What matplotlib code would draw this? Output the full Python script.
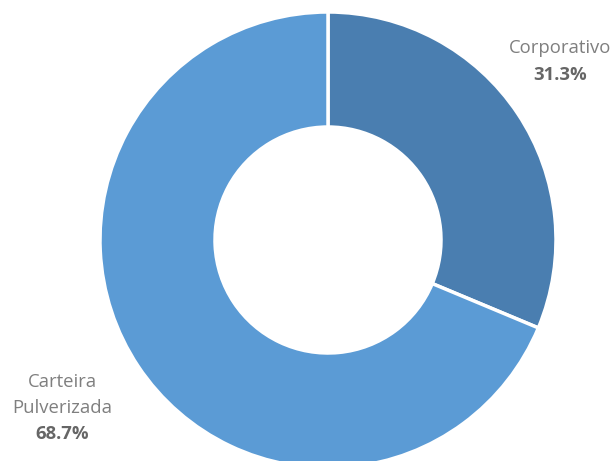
import matplotlib.pyplot as plt

labels = ["Corporativo", "Carteira\nPulverizada"]
values = [31.3, 68.7]
colors = ["#4a7eb0", "#5b9bd5"]

plt.rcParams['font.family'] = ['Open Sans', 'DejaVu Sans']

fig = plt.figure(figsize=(6.15, 4.61), dpi=100)
ax = fig.add_axes([0, 0, 1, 1])

# donut, clockwise from the top
ax.pie(values, colors=colors, startangle=90, counterclock=False,
       center=(328, 221), radius=228, frame=True,
       wedgeprops=dict(width=115, edgecolor="white", linewidth=2.5))

ax.set_xlim(0, 615)
ax.set_ylim(0, 461)
ax.axis("off")

grey = "#7f7f7f"
dark = "#666666"
fs = 13.3
ax.text(560, 461 - 48, labels[0], ha="center", va="center", fontsize=fs, color=grey)
ax.text(560, 461 - 75, "%.1f%%" % values[0], ha="center", va="center", fontsize=fs,
        color=dark, fontweight="bold")
for i, line in enumerate(labels[1].split("\n")):
    ax.text(62, 461 - 382 - 26 * i, line, ha="center", va="center", fontsize=fs, color=grey)
ax.text(62, 461 - 434, "%.1f%%" % values[1], ha="center", va="center", fontsize=fs,
        color=dark, fontweight="bold")

fig.savefig("out.png", dpi=100)
